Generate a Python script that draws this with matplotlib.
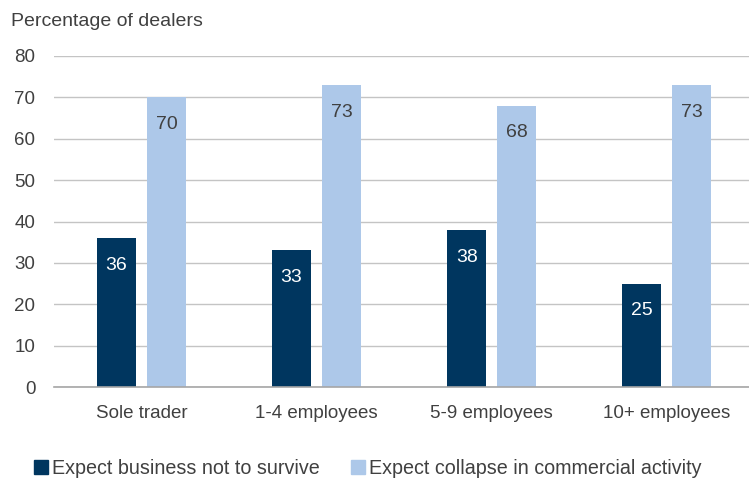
import matplotlib.pyplot as plt
import numpy as np

plt.rcParams['font.family'] = ['Liberation Sans', 'DejaVu Sans']

categories = ['Sole trader', '1-4 employees', '5-9 employees', '10+ employees']
not_survive = [36, 33, 38, 25]
collapse = [70, 73, 68, 73]
series_names = ['Expect business not to survive', 'Expect collapse in commercial activity']

dark = '#00365f'
light = '#adc8e9'
txt = '#404040'

fig = plt.figure(figsize=(7.49, 4.83), dpi=100)
ax = fig.add_axes([54 / 749, 1 - 387 / 483, 695 / 749, (387 - 56) / 483])

x = np.arange(len(categories))
w = 0.223
b1 = ax.bar(x - 0.143, not_survive, w, color=dark, zorder=3)
b2 = ax.bar(x + 0.143, collapse, w, color=light, zorder=3)

for bars, vals, c in [(b1, not_survive, 'white'), (b2, collapse, txt)]:
    for r, v in zip(bars, vals):
        ax.text(r.get_x() + r.get_width() / 2, v - 6.6, str(v), ha='center',
                va='center', fontsize=14, color=c, zorder=4)

ax.set_xlim(-0.5, 3.47)
ax.set_ylim(0, 80)
ax.set_yticks(range(0, 81, 10))
ax.set_xticks(x)
ax.set_xticklabels(categories)
ax.tick_params(axis='both', length=0, labelsize=13.5, colors=txt)
ax.tick_params(axis='y', pad=13.5)
ax.tick_params(axis='x', pad=13)
ax.yaxis.grid(True, color='#c4c4c4', linewidth=1, zorder=0)
for s in ['top', 'right', 'left']:
    ax.spines[s].set_visible(False)
ax.spines['bottom'].set_color('#a6a6a6')
ax.spines['bottom'].set_linewidth(1.2)
ax.spines['bottom'].set_zorder(5)

fig.text(11 / 749, 1 - 22 / 483, 'Percentage of dealers', fontsize=14, color=txt,
         va='center', ha='left')

handles = [plt.Rectangle((0, 0), 1, 1, color=dark), plt.Rectangle((0, 0), 1, 1, color=light)]
fig.legend(handles, series_names, loc='center left', bbox_to_anchor=(16 / 749, 1 - 468 / 483),
           ncol=2, frameon=False, fontsize=14.2, handlelength=0.7, handleheight=0.7,
           handletextpad=0.2, columnspacing=1.6, labelcolor=txt)

fig.savefig('out.png', dpi=100)
